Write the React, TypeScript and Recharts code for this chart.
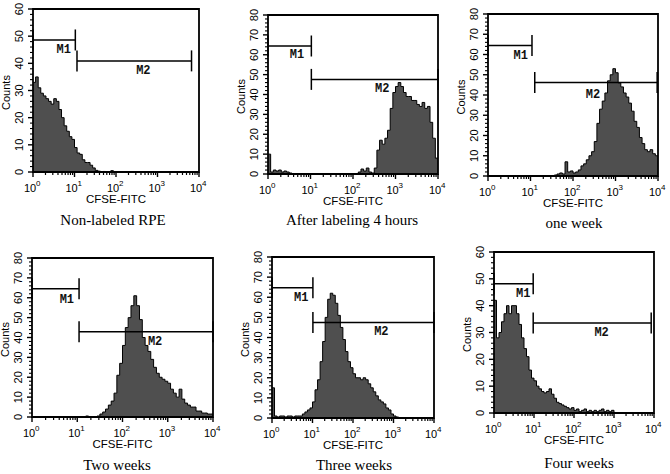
import React from "react";
import {
  ComposedChart,
  Area,
  XAxis,
  YAxis,
  ReferenceArea,
  ReferenceLine,
  ReferenceDot,
} from "recharts";

// histogram bins: 16 bins per decade, 4 decades (10^0 .. 10^4)
const BINS_PER_DECADE = 16;
const DECADE_EXPONENTS = ["0", "1", "2", "3", "4"];
const MINOR_FACTORS = [2, 3, 4, 5, 6, 7, 8, 9];
const COUNT_TICKS_60 = [0, 10, 20, 30, 40, 50, 60];
const COUNT_TICKS_80 = [0, 10, 20, 30, 40, 50, 60, 70, 80];

const nonLabeled = [
  33, 35, 31, 29, 28, 27, 26, 25, 27, 26, 23, 20, 17, 15, 13, 12,
  9, 7, 6.5, 4.5, 3.5, 3.5, 2.5, 1.5, 0.6, 0.3, 0, 0.2, 0, 0, 0.5, 0,
  0, 0, 0, 0, 0, 0, 0, 0, 0, 0, 0, 0, 0, 0, 0, 0,
  0, 0, 0, 0, 0, 0, 0, 0, 0, 0, 0, 0, 0, 0, 0, 0,
];
const after4h = [
  10, 1, 2, 1.5, 2, 1, 1.5, 1, 0.5, 0, 0, 0, 0, 0, 0, 0,
  0, 0, 0, 0, 0, 0, 0, 0, 0, 0, 0, 0, 0, 0, 0, 0,
  0, 0, 1, 2.5, 1.5, 3, 1, 0.5, 3, 12, 17, 15, 18, 22, 33, 41,
  44, 46, 44, 41, 39, 39, 37, 37, 35, 34, 36, 33, 34, 26, 18, 8,
];
const oneWeek = [
  0, 0, 0, 0, 0, 0, 0, 0, 0, 0, 0, 0, 0, 0, 0, 0,
  0, 0, 0, 0, 0, 0, 0, 0, 0, 0.5, 1, 1.5, 1, 7, 2, 2.5,
  1.5, 2, 3, 5, 6, 8, 10, 12, 17, 26, 33, 37, 41, 47, 50, 53,
  51, 46, 44, 41, 39, 36, 32, 27, 24, 19, 16, 13, 12, 13, 11, 10,
];
const twoWeeks = [
  0, 0, 0, 0, 0, 0, 0, 0, 0, 0, 0, 0, 0, 0, 0, 0,
  0, 0, 0, 0.5, 0, 0, 0, 0.5, 1.5, 2.5, 4, 6, 8, 12, 21, 27,
  36, 45, 50, 56, 61, 56, 49, 40, 36, 33, 29, 25, 22, 20, 19, 18,
  17, 14, 12, 10, 14, 9, 7, 6, 5, 5, 3, 3, 2, 2, 1.5, 1.5,
];
const threeWeeks = [
  15, 1, 0.5, 1, 1, 0.5, 1, 1, 0.5, 1, 1, 1, 2, 3, 4, 5,
  8, 14, 19, 28, 38, 50, 59, 62, 61, 57, 51, 45, 39, 33, 28, 25,
  22, 20, 20, 19, 20, 19, 17, 15, 13, 11, 9, 8, 7, 5, 4, 2,
  1, 0.5, 0, 0, 0, 0, 0, 0, 0, 0, 0, 0, 0, 0, 0, 0,
];
const fourWeeks = [
  42, 28, 30, 34, 37, 40, 37, 40, 40, 37, 33, 28, 24, 21, 16, 13,
  12, 10, 9, 8, 7.5, 8, 9, 7, 5.5, 4, 3.5, 3, 2.5, 2, 1.5, 2,
  1, 1.5, 0.5, 1, 1.5, 0.5, 1, 0.5, 1, 0.5, 1, 1.5, 0.5, 1, 0.5, 1,
  0, 0, 0, 0, 0, 0, 0, 0, 0, 0, 0, 0, 0, 0, 0, 0,
];

// gates (in decades from 10^0, and count level of the bar)
const gatesNonLabeled = [
  { name: "M1", from: 0, to: 1.02, level: 48.6 },
  { name: "M2", from: 1.06, to: 3.82, level: 40.9 },
];
const gatesAfter4h = [
  { name: "M1", from: 0, to: 1.02, level: 64.4 },
  { name: "M2", from: 1.02, to: 4, level: 47.6 },
];
const gatesOneWeek = [
  { name: "M1", from: 0, to: 1.035, level: 64.4 },
  { name: "M2", from: 1.1, to: 3.98, level: 46.2 },
];
const gatesTwoWeeks = [
  { name: "M1", from: 0, to: 1.04, level: 64.5 },
  { name: "M2", from: 1.04, to: 4, level: 42.9 },
];
const gatesThreeWeeks = [
  { name: "M1", from: 0, to: 1.01, level: 64.7 },
  { name: "M2", from: 1.01, to: 4, level: 47.4 },
];
const gatesFourWeeks = [
  { name: "M1", from: 0, to: 0.98, level: 48.2 },
  { name: "M2", from: 0.98, to: 3.93, level: 33.5 },
];

// layout: plot box [left, top, right, bottom] in page px, gate label spots, caption centre
const PANELS = [
  { title: "Non-labeled RPE", counts: nonLabeled, gates: gatesNonLabeled, yTicks: COUNT_TICKS_60,
    box: [33, 9, 199, 172], labelAt: [[0.74, 45], [2.66, 37]], caption: [113, 220] },
  { title: "After labeling 4 hours", counts: after4h, gates: gatesAfter4h, yTicks: COUNT_TICKS_80,
    box: [268, 15, 438, 174], labelAt: [[0.68, 60], [2.69, 42.6]], caption: [352, 220] },
  { title: "one week", counts: oneWeek, gates: gatesOneWeek, yTicks: COUNT_TICKS_80,
    box: [488, 14, 658, 176], labelAt: [[0.77, 59.2], [2.47, 40]], caption: [574, 223] },
  { title: "Two weeks", counts: twoWeeks, gates: gatesTwoWeeks, yTicks: COUNT_TICKS_80,
    box: [32, 258, 213, 417], labelAt: [[0.77, 59], [2.72, 37.9]], caption: [117, 465] },
  { title: "Three weeks", counts: threeWeeks, gates: gatesThreeWeeks, yTicks: COUNT_TICKS_80,
    box: [272, 257, 434, 418], labelAt: [[0.72, 59.6], [2.7, 42.7]], caption: [354, 465] },
  { title: "Four weeks", counts: fourWeeks, gates: gatesFourWeeks, yTicks: COUNT_TICKS_60,
    box: [494, 252, 654, 413], labelAt: [[0.73, 44.3], [2.69, 29.8]], caption: [579, 463] },
];

const SANS = "'Liberation Sans', Arial, Helvetica, sans-serif";
const DECADES = DECADE_EXPONENTS.length - 1;

const X_TICKS: number[] = [];
for (let n = 0; n <= DECADES; n++) {
  X_TICKS.push(n);
  if (n < DECADES) MINOR_FACTORS.forEach((f) => X_TICKS.push(n + Math.log10(f)));
}

function XTick({ x, y, payload }: any) {
  const v = payload.value;
  const k = Math.round(v);
  if (Math.abs(v - k) > 1e-6) {
    return <line x1={x} x2={x} y1={y} y2={y + 3} stroke="#000" strokeWidth={1.2} />;
  }
  return (
    <g>
      <line x1={x} x2={x} y1={y} y2={y + 5} stroke="#000" strokeWidth={1.4} />
      <text x={x - 3} y={y + 20} textAnchor="middle" fontSize={11} fontFamily={SANS} fill="#000">
        10
      </text>
      <text x={x + 3} y={y + 14} textAnchor="start" fontSize={8} fontFamily={SANS} fill="#000">
        {DECADE_EXPONENTS[k]}
      </text>
    </g>
  );
}

function makeYTick(majors: number[]) {
  return ({ x, y, payload }: any) => {
    const v = payload.value;
    if (!majors.includes(v)) {
      return <line x1={x - 3} x2={x} y1={y} y2={y} stroke="#000" strokeWidth={1.1} />;
    }
    return (
      <g>
        <line x1={x - 5} x2={x} y1={y} y2={y} stroke="#000" strokeWidth={1.4} />
        <text
          x={x - 14}
          y={y}
          transform={`rotate(-90 ${x - 14} ${y})`}
          textAnchor="middle"
          dominantBaseline="central"
          fontSize={11}
          fontFamily={SANS}
          fill="#000"
        >
          {v}
        </text>
      </g>
    );
  };
}

function XTitle({ viewBox }: any) {
  return (
    <text
      x={viewBox.x + viewBox.width / 2}
      y={viewBox.y + 31}
      textAnchor="middle"
      fontSize={11.5}
      fontFamily={SANS}
      fill="#000"
    >
      CFSE-FITC
    </text>
  );
}

function YTitle({ viewBox }: any) {
  const cx = viewBox.x + viewBox.width - 27;
  const cy = viewBox.y + viewBox.height / 2 + 2;
  return (
    <text
      x={cx}
      y={cy}
      transform={`rotate(-90 ${cx} ${cy})`}
      textAnchor="middle"
      dominantBaseline="central"
      fontSize={11}
      fontFamily={SANS}
      fill="#000"
    >
      Counts
    </text>
  );
}

const ML = 45;
const MT = 8;
const MR = 12;
const XH = 60;

function Panel({ p }: any) {
  const [x0, y0, x1, y1] = p.box;
  const w = x1 - x0;
  const h = y1 - y0;
  const ymax = p.yTicks[p.yTicks.length - 1];
  const half = 10.5 / (h / ymax);

  const rows = p.counts.map((c: number, i: number) => ({ d: i / BINS_PER_DECADE, c }));
  rows.push({ d: DECADES, c: p.counts[p.counts.length - 1] });

  const yAll: number[] = [];
  for (let v = 0; v <= ymax; v += 2) yAll.push(v);

  return (
    <div style={{ position: "absolute", left: x0 - ML, top: y0 - MT }}>
      <ComposedChart
        width={w + ML + MR}
        height={h + MT + XH}
        data={rows}
        margin={{ top: MT, right: MR, bottom: 0, left: 0 }}
      >
        <XAxis
          dataKey="d"
          type="number"
          domain={[0, DECADES]}
          ticks={X_TICKS}
          interval={0}
          tick={XTick}
          tickLine={false}
          axisLine={false}
          tickSize={0}
          tickMargin={0}
          height={XH}
          allowDataOverflow
          label={<XTitle />}
        />
        <YAxis
          type="number"
          domain={[0, ymax]}
          ticks={yAll}
          interval={0}
          tick={makeYTick(p.yTicks)}
          tickLine={false}
          axisLine={false}
          tickSize={0}
          tickMargin={0}
          width={ML}
          allowDataOverflow
          label={<YTitle />}
        />
        <Area
          dataKey="c"
          type="stepAfter"
          stroke="#000"
          strokeWidth={1}
          fill="#4f4f4f"
          fillOpacity={1}
          dot={false}
          activeDot={false}
          isAnimationActive={false}
        />
        <ReferenceArea
          x1={0}
          x2={DECADES}
          y1={0}
          y2={ymax}
          fill="none"
          fillOpacity={0}
          stroke="#000"
          strokeWidth={1.8}
          ifOverflow="visible"
        />
        {p.gates.map((g: any, gi: number) => (
          <React.Fragment key={g.name}>
            <ReferenceLine
              segment={[{ x: g.from, y: g.level }, { x: g.to, y: g.level }]}
              stroke="#000"
              strokeWidth={1.5}
              ifOverflow="visible"
            />
            <ReferenceLine
              segment={[{ x: g.from, y: g.level - half }, { x: g.from, y: g.level + half }]}
              stroke="#000"
              strokeWidth={1.5}
              ifOverflow="visible"
            />
            <ReferenceLine
              segment={[{ x: g.to, y: g.level - half }, { x: g.to, y: g.level + half }]}
              stroke="#000"
              strokeWidth={1.5}
              ifOverflow="visible"
            />
            <ReferenceDot
              x={p.labelAt[gi][0]}
              y={p.labelAt[gi][1]}
              r={1}
              ifOverflow="visible"
              shape={(sp: any) => (
                <text
                  x={sp.cx}
                  y={sp.cy}
                  textAnchor="middle"
                  dominantBaseline="central"
                  fontSize={12}
                  fontWeight="bold"
                  fontFamily="'Liberation Mono', 'DejaVu Sans Mono', monospace"
                  fill="#111"
                >
                  {g.name}
                </text>
              )}
            />
          </React.Fragment>
        ))}
      </ComposedChart>
    </div>
  );
}

export default function App() {
  return (
    <div
      style={{
        position: "absolute",
        left: 0,
        top: 0,
        width: 670,
        height: 474,
        background: "#fff",
        overflow: "hidden",
      }}
    >
      {PANELS.map((p) => (
        <Panel key={p.title} p={p} />
      ))}
      {PANELS.map((p) => (
        <div
          key={p.title + "-cap"}
          style={{
            position: "absolute",
            left: p.caption[0] - 100,
            top: p.caption[1] - 9,
            width: 200,
            textAlign: "center",
            fontFamily: "'Liberation Serif', 'Times New Roman', serif",
            fontSize: 15,
            lineHeight: "18px",
            color: "#000",
          }}
        >
          {p.title}
        </div>
      ))}
    </div>
  );
}
